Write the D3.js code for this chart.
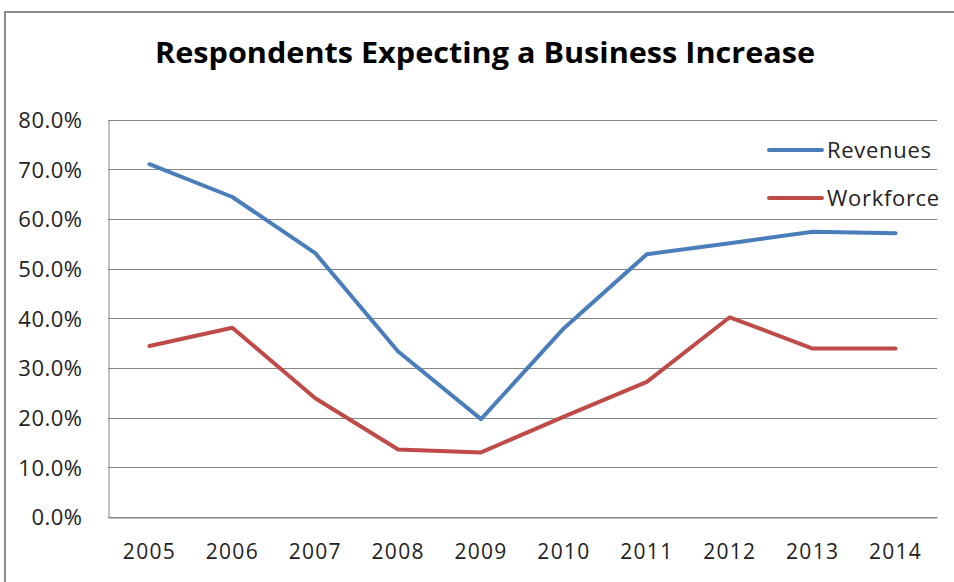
<!DOCTYPE html>
<html>
<head>
<meta charset="utf-8">
<script src="https://cdn.jsdelivr.net/npm/d3@7"></script>
<style>
  html, body { margin: 0; padding: 0; background: #fff; }
  svg { display: block; }
</style>
</head>
<body>
<svg id="chart" width="954" height="582"></svg>
<script>
// Survey share of respondents expecting an increase, by year
const years = ["2005", "2006", "2007", "2008", "2009", "2010", "2011", "2012", "2013", "2014"];
const revenues = [71.0, 64.4, 53.1, 33.3, 19.7, 38.0, 52.9, 55.1, 57.4, 57.1];
const workforce = [34.4, 38.1, 23.9, 13.6, 13.0, 20.2, 27.2, 40.2, 33.9, 33.9];
const yTicks = [0, 10, 20, 30, 40, 50, 60, 70, 80];
const seriesNames = ["Revenues", "Workforce"];
const seriesColors = ["#4A7EBB", "#BE4B48"];

const svg = d3.select("#chart");
const W = 954, H = 582;
const plot = { left: 108, right: 937, top: 119.5, bottom: 517 };
const font = "'Open Sans', 'Liberation Sans', sans-serif";

// outer chart frame
svg.append("rect")
  .attr("x", 5).attr("y", 12)
  .attr("width", W + 10).attr("height", H + 10)
  .attr("fill", "#fff")
  .attr("stroke", "#8a8a8a").attr("stroke-width", 2);

const x = d3.scaleBand().domain(years).range([plot.left, plot.right]);
const y = d3.scaleLinear().domain([0, 80]).range([plot.bottom, plot.top]);

// horizontal gridlines
svg.append("g")
  .selectAll("line")
  .data(yTicks)
  .join("line")
  .attr("x1", plot.left).attr("x2", plot.right)
  .attr("y1", d => Math.round(y(d)) + 0.5).attr("y2", d => Math.round(y(d)) + 0.5)
  .attr("stroke", "#868686").attr("stroke-width", 1);

// y axis
const yAxis = svg.append("g")
  .attr("transform", `translate(${plot.left + 0.5},0)`)
  .call(d3.axisLeft(y).tickValues(yTicks).tickSize(0).tickPadding(26)
    .tickFormat(d => d.toFixed(1) + "%"));
yAxis.select(".domain").attr("stroke", "#868686");
yAxis.selectAll("text")
  .attr("font-family", font).attr("font-size", 22)
  .attr("letter-spacing", 0.5)
  .attr("fill", "#222").attr("dy", "0.36em");

// x axis
const xAxis = svg.append("g")
  .attr("transform", `translate(0,${Math.round(plot.bottom) + 0.5})`)
  .call(d3.axisBottom(x).tickSize(0).tickPadding(27));
xAxis.select(".domain").attr("stroke", "#868686");
xAxis.selectAll("text")
  .attr("font-family", font).attr("font-size", 21)
  .attr("letter-spacing", 1.3)
  .attr("fill", "#222");

// series lines
const line = d3.line()
  .x((d, i) => x(years[i]) + x.bandwidth() / 2)
  .y(d => y(d));

[revenues, workforce].forEach((vals, k) => {
  svg.append("path")
    .datum(vals)
    .attr("d", line)
    .attr("fill", "none")
    .attr("stroke", seriesColors[k])
    .attr("stroke-width", 4)
    .attr("stroke-linejoin", "round")
    .attr("stroke-linecap", "round");
});

// legend
const legend = svg.append("g");
seriesNames.forEach((name, k) => {
  const ly = 150 + k * 48;
  legend.append("line")
    .attr("x1", 769).attr("x2", 822)
    .attr("y1", ly).attr("y2", ly)
    .attr("stroke", seriesColors[k]).attr("stroke-width", 4)
    .attr("stroke-linecap", "round");
  legend.append("text")
    .attr("x", 827).attr("y", ly)
    .attr("dy", "0.36em")
    .attr("font-family", font).attr("font-size", 22)
    .attr("letter-spacing", 0.7)
    .attr("fill", "#222")
    .text(name);
});

// title
svg.append("text")
  .attr("x", 485).attr("y", 63)
  .attr("text-anchor", "middle")
  .attr("font-family", font).attr("font-size", 28).attr("font-weight", "bold")
  .attr("fill", "#000")
  .attr("textLength", 660).attr("lengthAdjust", "spacingAndGlyphs")
  .text("Respondents Expecting a Business Increase");
</script>
</body>
</html>
